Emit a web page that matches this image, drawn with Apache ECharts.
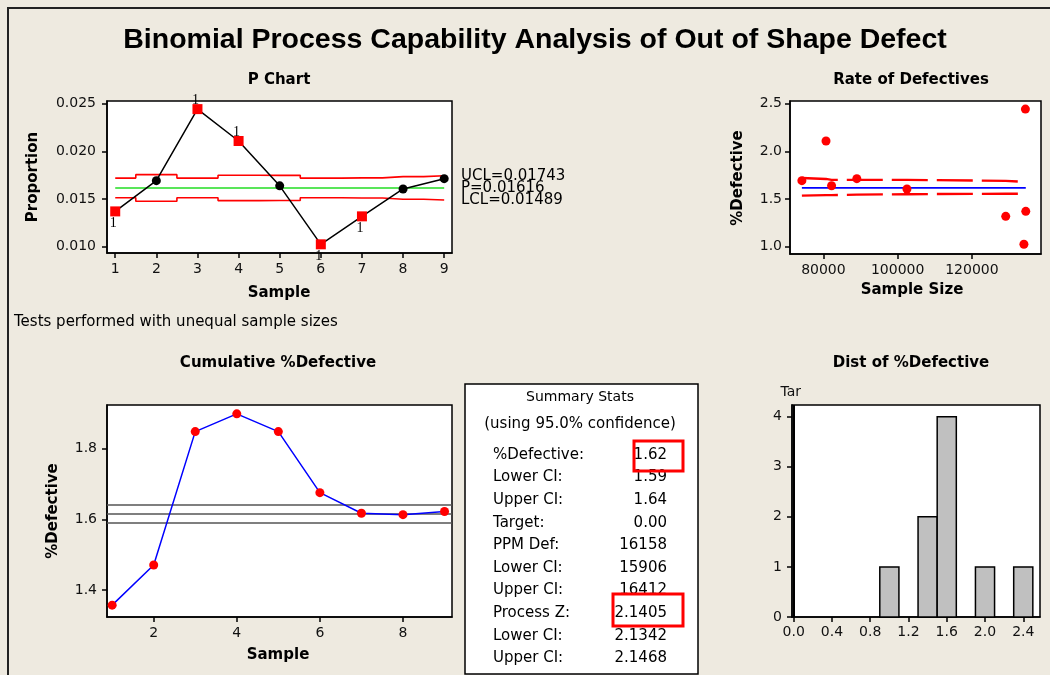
<!DOCTYPE html>
<html>
<head>
<meta charset="utf-8">
<script src="https://cdn.jsdelivr.net/npm/echarts@6/dist/echarts.min.js"></script>
<style>
  html, body { margin: 0; padding: 0; background: #EEEAE0; }
  #main { width: 1050px; height: 675px; }
</style>
</head>
<body>
<div id="main"></div>
<script>
// ---- Sample data (subgroup order) ----
const samples = [1, 2, 3, 4, 5, 6, 7, 8, 9];
const sampleSizes = [134500, 74200, 134400, 80700, 82200, 134000, 129100, 102500, 89000];
const proportions = [0.01370, 0.01692, 0.02442, 0.02108, 0.01638, 0.01025, 0.01318, 0.01605, 0.01713];
const outOfControl = [true, false, true, true, false, true, true, false, false];

// ---- P chart limits (per subgroup, unequal sizes) ----
const pBar = 0.01616;
const uclP = [0.01719, 0.01755, 0.01719, 0.01749, 0.01748, 0.01719, 0.01721, 0.01734, 0.01743];
const lclP = [0.01513, 0.01477, 0.01513, 0.01483, 0.01484, 0.01513, 0.01511, 0.01498, 0.01489];
const pTicks = [0.010, 0.015, 0.020, 0.025];
const sampleTicks = [1, 2, 3, 4, 5, 6, 7, 8, 9];

// ---- Rate of defectives limits vs. sample size (%) ----
const limitSizes = [74200, 80700, 82200, 89000, 102500, 129100, 134000, 134500];
const rateUcl = [1.72, 1.71, 1.70, 1.70, 1.70, 1.69, 1.68, 1.68];
const rateLcl = [1.535, 1.54, 1.54, 1.545, 1.55, 1.555, 1.555, 1.555];
const sizeTicks = [80000, 100000, 120000];
const rateTicks = [1.0, 1.5, 2.0, 2.5];

// ---- Cumulative % defective ----
const cumPct = [1.358, 1.471, 1.847, 1.897, 1.847, 1.675, 1.617, 1.613, 1.622];
const ciLines = [1.59, 1.616, 1.64];
const cumXTicks = [2, 4, 6, 8];
const cumYTicks = [1.4, 1.6, 1.8];

// ---- Distribution of % defective ----
const binCenters = [1.0, 1.4, 1.6, 2.0, 2.4];
const binCounts = [1, 2, 4, 1, 1];
const binWidth = 0.2;
const target = 0.0;
const histXTicks = [0.0, 0.4, 0.8, 1.2, 1.6, 2.0, 2.4];
const histYTicks = [0, 1, 2, 3, 4];

// ---- Summary statistics ----
const statLabels = ['%Defective:', 'Lower CI:', 'Upper CI:', 'Target:', 'PPM Def:',
                    'Lower CI:', 'Upper CI:', 'Process Z:', 'Lower CI:', 'Upper CI:'];
const statValues = ['1.62', '1.59', '1.64', '0.00', '16158', '15906', '16412', '2.1405', '2.1342', '2.1468'];

const FONT = "'DejaVu Sans', Verdana, sans-serif";
const TITLE_FONT = "'Liberation Sans', Arial, sans-serif";

function valueAxis(gridIndex, min, max, ticks, fmt, margin) {
  return {
    type: 'value', gridIndex: gridIndex, min: min, max: max, scale: true,
    axisLine: { show: true, onZero: false, lineStyle: { color: '#000', width: 1.5 } },
    axisTick: { show: true, inside: false, length: 5, customValues: ticks,
                lineStyle: { color: '#000', width: 1.5 } },
    axisLabel: { show: true, customValues: ticks, formatter: fmt, margin: margin,
                 color: '#111', fontFamily: FONT, fontSize: 14 },
    splitLine: { show: false }
  };
}

function gridBox(left, top, width, height) {
  return { left: left, top: top, width: width, height: height, show: true,
           backgroundColor: '#fff', borderColor: '#000', borderWidth: 1.5 };
}

function txt(x, y, text, font, align, extra) {
  return Object.assign({
    type: 'text', x: x, y: y, silent: true,
    style: { text: text, font: font, fill: '#000',
             textAlign: align || 'center', align: align || 'center',
             textVerticalAlign: 'middle', verticalAlign: 'middle' }
  }, extra || {});
}

// P chart points: red squares flag test-1 failures
const pPoints = samples.map((s, i) => {
  if (!outOfControl[i]) {
    return { value: [s, proportions[i]], symbol: 'circle', symbolSize: 9, itemStyle: { color: '#000' } };
  }
  const above = proportions[i] > pBar;
  return {
    value: [s, proportions[i]], symbol: 'rect', symbolSize: 10, itemStyle: { color: '#ff0000' },
    label: { show: true, formatter: '1', position: above ? 'top' : 'bottom',
             distance: above ? -3 : 0, offset: [-2, 0],
             fontFamily: "'Liberation Serif', 'DejaVu Serif', serif", fontSize: 14, color: '#000' }
  };
});

const graphics = [
  { type: 'polyline', silent: true, shape: { points: [[8, 675], [8, 8], [1050, 8]] },
    style: { stroke: '#222', lineWidth: 2, fill: null } },
  txt(535, 40, 'Binomial Process Capability Analysis of Out of Shape Defect', 'bold 28.5px ' + TITLE_FONT),
  txt(279, 80, 'P Chart', 'bold 15px ' + FONT),
  txt(911, 80, 'Rate of Defectives', 'bold 15px ' + FONT),
  txt(278, 363, 'Cumulative %Defective', 'bold 15px ' + FONT),
  txt(911, 363, 'Dist of %Defective', 'bold 15px ' + FONT),
  txt(33, 177, 'Proportion', 'bold 15px ' + FONT, 'center', { rotation: Math.PI / 2 }),
  txt(279, 293, 'Sample', 'bold 15px ' + FONT),
  txt(738, 178, '%Defective', 'bold 15px ' + FONT, 'center', { rotation: Math.PI / 2 }),
  txt(912, 290, 'Sample Size', 'bold 15px ' + FONT),
  txt(53, 511, '%Defective', 'bold 15px ' + FONT, 'center', { rotation: Math.PI / 2 }),
  txt(278, 655, 'Sample', 'bold 15px ' + FONT),
  txt(14, 322, 'Tests performed with unequal sample sizes', '15px ' + FONT, 'left'),
  { type: 'rect', silent: true, shape: { x: 465, y: 384, width: 233, height: 290 },
    style: { fill: '#fff', stroke: '#000', lineWidth: 1.5 } },
  txt(580, 397, 'Summary Stats', '14px ' + FONT),
  txt(580, 424, '(using 95.0% confidence)', '15px ' + FONT)
];
statLabels.forEach((lab, i) => {
  const y = 455 + i * 22.6;
  graphics.push(txt(493, y, lab, '15px ' + FONT, 'left'));
  graphics.push(txt(667, y, statValues[i], '15px ' + FONT, 'right'));
});
graphics.push({ type: 'rect', silent: true, shape: { x: 634, y: 441, width: 49, height: 30 },
                style: { fill: null, stroke: '#ff0000', lineWidth: 3 } });
graphics.push({ type: 'rect', silent: true, shape: { x: 613, y: 594, width: 70, height: 32 },
                style: { fill: null, stroke: '#ff0000', lineWidth: 3 } });

const fmt3 = v => v.toFixed(3);
const fmt1 = v => v.toFixed(1);
const fmt0 = v => String(v);

// Control-limit captions to the right of the P chart
const limitLabelStyle = { show: true, position: 'end', distance: 9, color: '#000',
                          fontFamily: FONT, fontSize: 15 };

const option = {
  backgroundColor: '#EEEAE0',
  animation: false,
  grid: [
    gridBox(107, 101, 345, 152),
    gridBox(790, 101, 251, 153),
    gridBox(107, 405, 345, 212),
    gridBox(792, 405, 248, 212)
  ],
  xAxis: [
    valueAxis(0, 0.80, 9.19, sampleTicks, fmt0, 9),
    valueAxis(1, 71000, 138600, sizeTicks, fmt0, 9),
    valueAxis(2, 0.876, 9.18, cumXTicks, fmt0, 9),
    valueAxis(3, -0.018, 2.575, histXTicks, fmt1, 8)
  ],
  yAxis: [
    valueAxis(0, 0.00934, 0.02527, pTicks, fmt3, 11),
    valueAxis(1, 0.923, 2.527, rateTicks, fmt1, 8),
    valueAxis(2, 1.3246, 1.922, cumYTicks, fmt1, 10),
    valueAxis(3, 0, 4.233, histYTicks, fmt0, 10)
  ],
  graphic: { elements: graphics },
  series: [
    // ---- P chart ----
    { type: 'line', xAxisIndex: 0, yAxisIndex: 0, step: 'middle', symbol: 'none', silent: true, z: 2,
      lineStyle: { color: '#ff0000', width: 1.6 },
      data: samples.map((s, i) => [s, uclP[i]]) },
    { type: 'line', xAxisIndex: 0, yAxisIndex: 0, step: 'middle', symbol: 'none', silent: true, z: 2,
      lineStyle: { color: '#ff0000', width: 1.6 },
      data: samples.map((s, i) => [s, lclP[i]]) },
    { type: 'line', xAxisIndex: 0, yAxisIndex: 0, symbol: 'none', silent: true, z: 2,
      lineStyle: { color: '#22dd22', width: 1.6 },
      data: [[samples[0], pBar], [samples[samples.length - 1], pBar]],
      markLine: {
        silent: true, symbol: 'none', precision: 6,
        lineStyle: { color: 'rgba(0,0,0,0)', width: 0 },
        label: limitLabelStyle,
        data: [
          { yAxis: uclP[8], label: Object.assign({}, limitLabelStyle, { formatter: 'UCL=' + uclP[8] }) },
          { yAxis: pBar, label: Object.assign({}, limitLabelStyle, { formatter: 'P=' + pBar }) },
          { yAxis: lclP[8], label: Object.assign({}, limitLabelStyle, { formatter: 'LCL=' + lclP[8] }) }
        ]
      } },
    { type: 'line', xAxisIndex: 0, yAxisIndex: 0, z: 5, showSymbol: true, silent: true,
      lineStyle: { color: '#000', width: 1.5 }, data: pPoints },

    // ---- Rate of defectives ----
    { type: 'line', xAxisIndex: 1, yAxisIndex: 1, symbol: 'none', silent: true, z: 2,
      lineStyle: { color: '#0000ff', width: 1.6 },
      data: [[limitSizes[0], pBar * 100], [limitSizes[limitSizes.length - 1], pBar * 100]] },
    { type: 'line', xAxisIndex: 1, yAxisIndex: 1, symbol: 'none', silent: true, z: 2,
      lineStyle: { color: '#ff0000', width: 2.4, type: [36, 9] },
      data: limitSizes.map((n, i) => [n, rateUcl[i]]) },
    { type: 'line', xAxisIndex: 1, yAxisIndex: 1, symbol: 'none', silent: true, z: 2,
      lineStyle: { color: '#ff0000', width: 2.4, type: [36, 9] },
      data: limitSizes.map((n, i) => [n, rateLcl[i]]) },
    { type: 'scatter', xAxisIndex: 1, yAxisIndex: 1, symbol: 'circle', symbolSize: 9, z: 5, silent: true,
      itemStyle: { color: '#ff0000', opacity: 1 },
      data: samples.map((s, i) => [sampleSizes[i], proportions[i] * 100]) },

    // ---- Cumulative % defective ----
    { type: 'line', xAxisIndex: 2, yAxisIndex: 2, symbol: 'circle', symbolSize: 9, z: 5, silent: true,
      lineStyle: { color: '#0000ff', width: 1.5 }, itemStyle: { color: '#ff0000' },
      data: samples.map((s, i) => [s, cumPct[i]]),
      markLine: {
        silent: true, symbol: 'none', precision: 4, label: { show: false },
        lineStyle: { color: '#555', width: 1.5, type: 'solid' },
        data: ciLines.map(v => ({ yAxis: v }))
      } },

    // ---- Histogram ----
    { type: 'custom', xAxisIndex: 3, yAxisIndex: 3, silent: true, z: 3,
      encode: { x: 0, y: 1 },
      data: binCenters.map((c, i) => [c, binCounts[i]]),
      renderItem: function (params, api) {
        const c = api.value(0), n = api.value(1);
        const p0 = api.coord([c - binWidth / 2, n]);
        const p1 = api.coord([c + binWidth / 2, 0]);
        return { type: 'rect',
                 shape: { x: p0[0], y: p0[1], width: p1[0] - p0[0], height: p1[1] - p0[1] },
                 style: { fill: '#c0c0c0', stroke: '#000', lineWidth: 1.5 } };
      },
      markLine: {
        silent: true, symbol: 'none',
        lineStyle: { color: '#000', width: 2, type: 'solid' },
        label: { show: true, position: 'end', formatter: 'Tar', distance: 6, offset: [-3, 0],
                 color: '#111', fontFamily: FONT, fontSize: 14 },
        data: [{ xAxis: target }]
      } }
  ]
};

const chart = echarts.init(document.getElementById('main'), null, { renderer: 'canvas', width: 1050, height: 675 });
chart.setOption(option);
</script>
</body>
</html>
